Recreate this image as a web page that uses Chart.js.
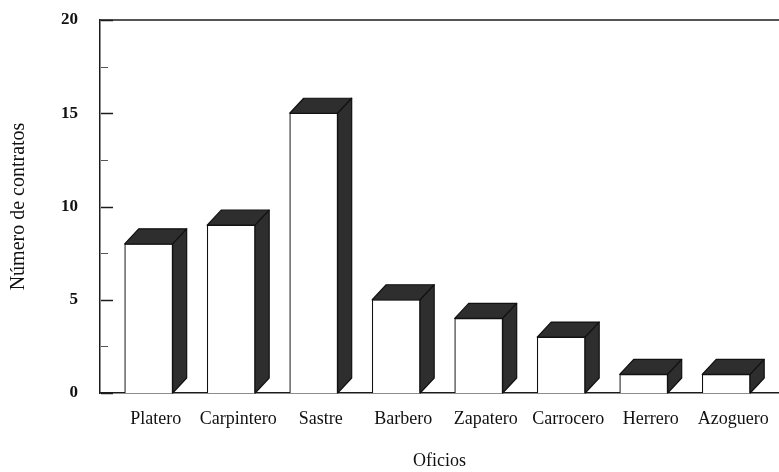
<!DOCTYPE html>
<html>
<head>
<meta charset="utf-8">
<script src="https://cdn.jsdelivr.net/npm/chart.js@4"></script>
<style>
  html, body { margin: 0; padding: 0; background: #fff; }
  canvas { display: block; }
</style>
</head>
<body>
<canvas id="oficiosChart" width="779" height="472"></canvas>
<script>
const oficios = ['Platero', 'Carpintero', 'Sastre', 'Barbero', 'Zapatero', 'Carrocero', 'Herrero', 'Azoguero'];
const contratos = [8, 9, 15, 5, 4, 3, 1, 1];
const yTickStep = 2.5;

const SERIF = '"Liberation Serif", "Times New Roman", serif';
const INK = '#1c1c1c';
const DEPTH_X = 14;
const DEPTH_Y = 15;

// ── 3D top and side faces on each bar ───────────────────────────────────────

const boxFaces = {
  id: 'boxFaces',
  afterDatasetsDraw(chart) {
    const ctx = chart.ctx;
    const meta = chart.getDatasetMeta(0);
    ctx.save();
    ctx.fillStyle = '#2e2e2e';
    ctx.strokeStyle = '#111';
    ctx.lineWidth = 1.2;
    ctx.lineJoin = 'round';
    meta.data.forEach(bar => {
      const { x, y, width, base } = bar.getProps(['x', 'y', 'width', 'base'], true);
      const l = x - width / 2, r = x + width / 2;
      // top
      ctx.beginPath();
      ctx.moveTo(l, y);
      ctx.lineTo(l + DEPTH_X, y - DEPTH_Y);
      ctx.lineTo(r + DEPTH_X, y - DEPTH_Y);
      ctx.lineTo(r, y);
      ctx.closePath();
      ctx.fill();
      ctx.stroke();
      // side
      ctx.beginPath();
      ctx.moveTo(r, y);
      ctx.lineTo(r + DEPTH_X, y - DEPTH_Y);
      ctx.lineTo(r + DEPTH_X, base - DEPTH_Y);
      ctx.lineTo(r, base);
      ctx.closePath();
      ctx.fill();
      ctx.stroke();
    });
    ctx.restore();
  }
};

// ── Frame line on top and inward ticks on the y axis ────────────────────────

const frame = {
  id: 'frame',
  afterDraw(chart) {
    const ctx = chart.ctx;
    const { left, right, top } = chart.chartArea;
    const yScale = chart.scales.y;
    ctx.save();
    ctx.strokeStyle = INK;
    ctx.lineWidth = 1.5;
    ctx.beginPath();
    ctx.moveTo(left, top);
    ctx.lineTo(right, top);
    ctx.stroke();

    yScale.ticks.forEach(t => {
      const py = Math.round(yScale.getPixelForValue(t.value)) + 0.5;
      const major = t.value % 5 === 0;
      ctx.lineWidth = major ? 1.5 : 1;
      ctx.strokeStyle = major ? INK : '#555';
      ctx.beginPath();
      ctx.moveTo(left + 1, py);
      ctx.lineTo(left + (major ? 13 : 8), py);
      ctx.stroke();
    });
    ctx.restore();
  }
};

new Chart(document.getElementById('oficiosChart'), {
  type: 'bar',
  data: {
    labels: oficios,
    datasets: [{
      data: contratos.map((v, i) => ({ x: i, y: v })),
      backgroundColor: '#ffffff',
      borderColor: '#111',
      borderWidth: 1.2,
      barThickness: 48,
    }]
  },
  options: {
    responsive: false,
    animation: false,
    devicePixelRatio: 1,
    layout: { padding: { top: 20, right: 0, left: 0, bottom: 0 } },
    plugins: {
      legend: { display: false },
      tooltip: { enabled: false }
    },
    scales: {
      x: {
        type: 'linear',
        offset: false,
        min: -0.59,
        max: 7.64,
        afterBuildTicks: scale => { scale.ticks = oficios.map((_, i) => ({ value: i })); },
        afterFit: scale => {
          scale.height = 79;
          scale.paddingLeft = 0;
          scale.paddingRight = 0;
        },
        grid: { display: false, drawTicks: false, offset: false },
        border: { display: true, color: INK, width: 1.5 },
        ticks: {
          autoSkip: false,
          maxRotation: 0,
          padding: 15,
          labelOffset: 7,
          color: '#111',
          font: { family: SERIF, size: 18 },
          callback: v => oficios[v]
        },
        title: {
          display: true,
          text: 'Oficios',
          color: '#111',
          padding: { top: 0, bottom: 0 },
          font: { family: SERIF, size: 18 }
        }
      },
      y: {
        min: 0,
        max: 20,
        afterFit: scale => {
          scale.width = 100;
          scale.paddingTop = 0;
          scale.paddingBottom = 0;
        },
        grid: { display: false, drawTicks: false },
        border: { display: true, color: INK, width: 1.5 },
        ticks: {
          stepSize: yTickStep,
          padding: 22,
          color: '#111',
          font: { family: SERIF, size: 17, weight: 'bold' },
          callback: v => (v % 5 === 0 ? v : '')
        },
        title: {
          display: true,
          text: 'Número de contratos',
          color: '#111',
          padding: { top: 7, bottom: 0 },
          font: { family: SERIF, size: 20 }
        }
      }
    }
  },
  plugins: [boxFaces, frame]
});
</script>
</body>
</html>
